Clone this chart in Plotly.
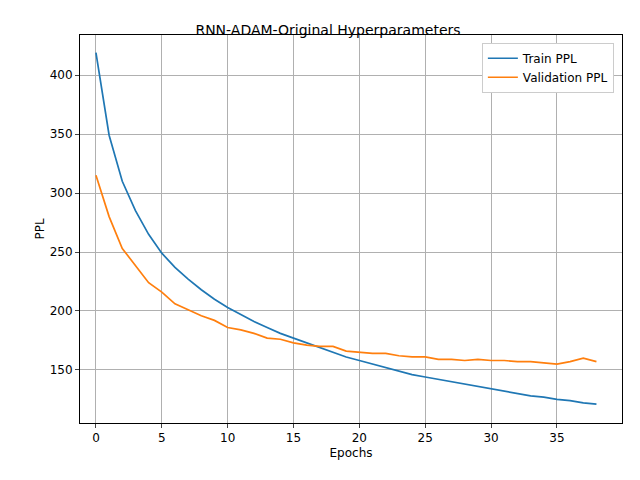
import plotly.graph_objects as go

epochs = list(range(39))
train_ppl = [419, 349, 310, 285, 265, 249, 237, 227, 218, 210, 203, 197, 191, 186, 181,
             177, 173, 169, 165, 161, 158, 155, 152, 149, 146, 144, 142, 140, 138, 136,
             134, 132, 130, 128, 127, 125, 124, 122, 121]
val_ppl = [315, 280, 253, 238, 224, 216, 206, 201, 196, 192, 186, 184, 181, 177, 176,
           173, 171, 170, 170, 166, 165, 164, 164, 162, 161, 161, 159, 159, 158, 159,
           158, 158, 157, 157, 156, 155, 157, 160, 157]

fig = go.Figure()
fig.add_trace(go.Scatter(x=epochs, y=train_ppl, mode='lines', name='Train PPL',
                         line=dict(color='#1f77b4', width=1.7)))
fig.add_trace(go.Scatter(x=epochs, y=val_ppl, mode='lines', name='Validation PPL',
                         line=dict(color='#ff7f0e', width=1.7)))

axis_style = dict(showgrid=True, gridcolor='#b0b0b0', gridwidth=1, showline=True,
                  linecolor='black', mirror=True, ticks='outside', ticklen=4,
                  zeroline=False, tickfont=dict(size=12, color='black'))
fig.update_xaxes(range=[-1.21, 39.94], tickvals=list(range(0, 40, 5)),
                 title=dict(text='Epochs', font=dict(size=12, color='black'), standoff=4),
                 **axis_style)
fig.update_yaxes(range=[105, 434], tickvals=[150, 200, 250, 300, 350, 400],
                 title=dict(text='PPL', font=dict(size=12, color='black'), standoff=2),
                 **axis_style)

fig.update_layout(
    width=640, height=480,
    paper_bgcolor='white', plot_bgcolor='white',
    font=dict(family='DejaVu Sans', size=12, color='black'),
    title=dict(text='RNN-ADAM-Original Hyperparameters', x=0.5, xanchor='center',
               y=0.955, yanchor='middle', font=dict(size=14)),
    margin=dict(l=72, r=26, t=27, b=65),
    showlegend=True,
    legend=dict(x=0.985, y=0.98, xanchor='right', yanchor='top',
                bgcolor='white', bordercolor='#cccccc', borderwidth=1,
                font=dict(size=12)),
)

fig.write_html("out.html")
